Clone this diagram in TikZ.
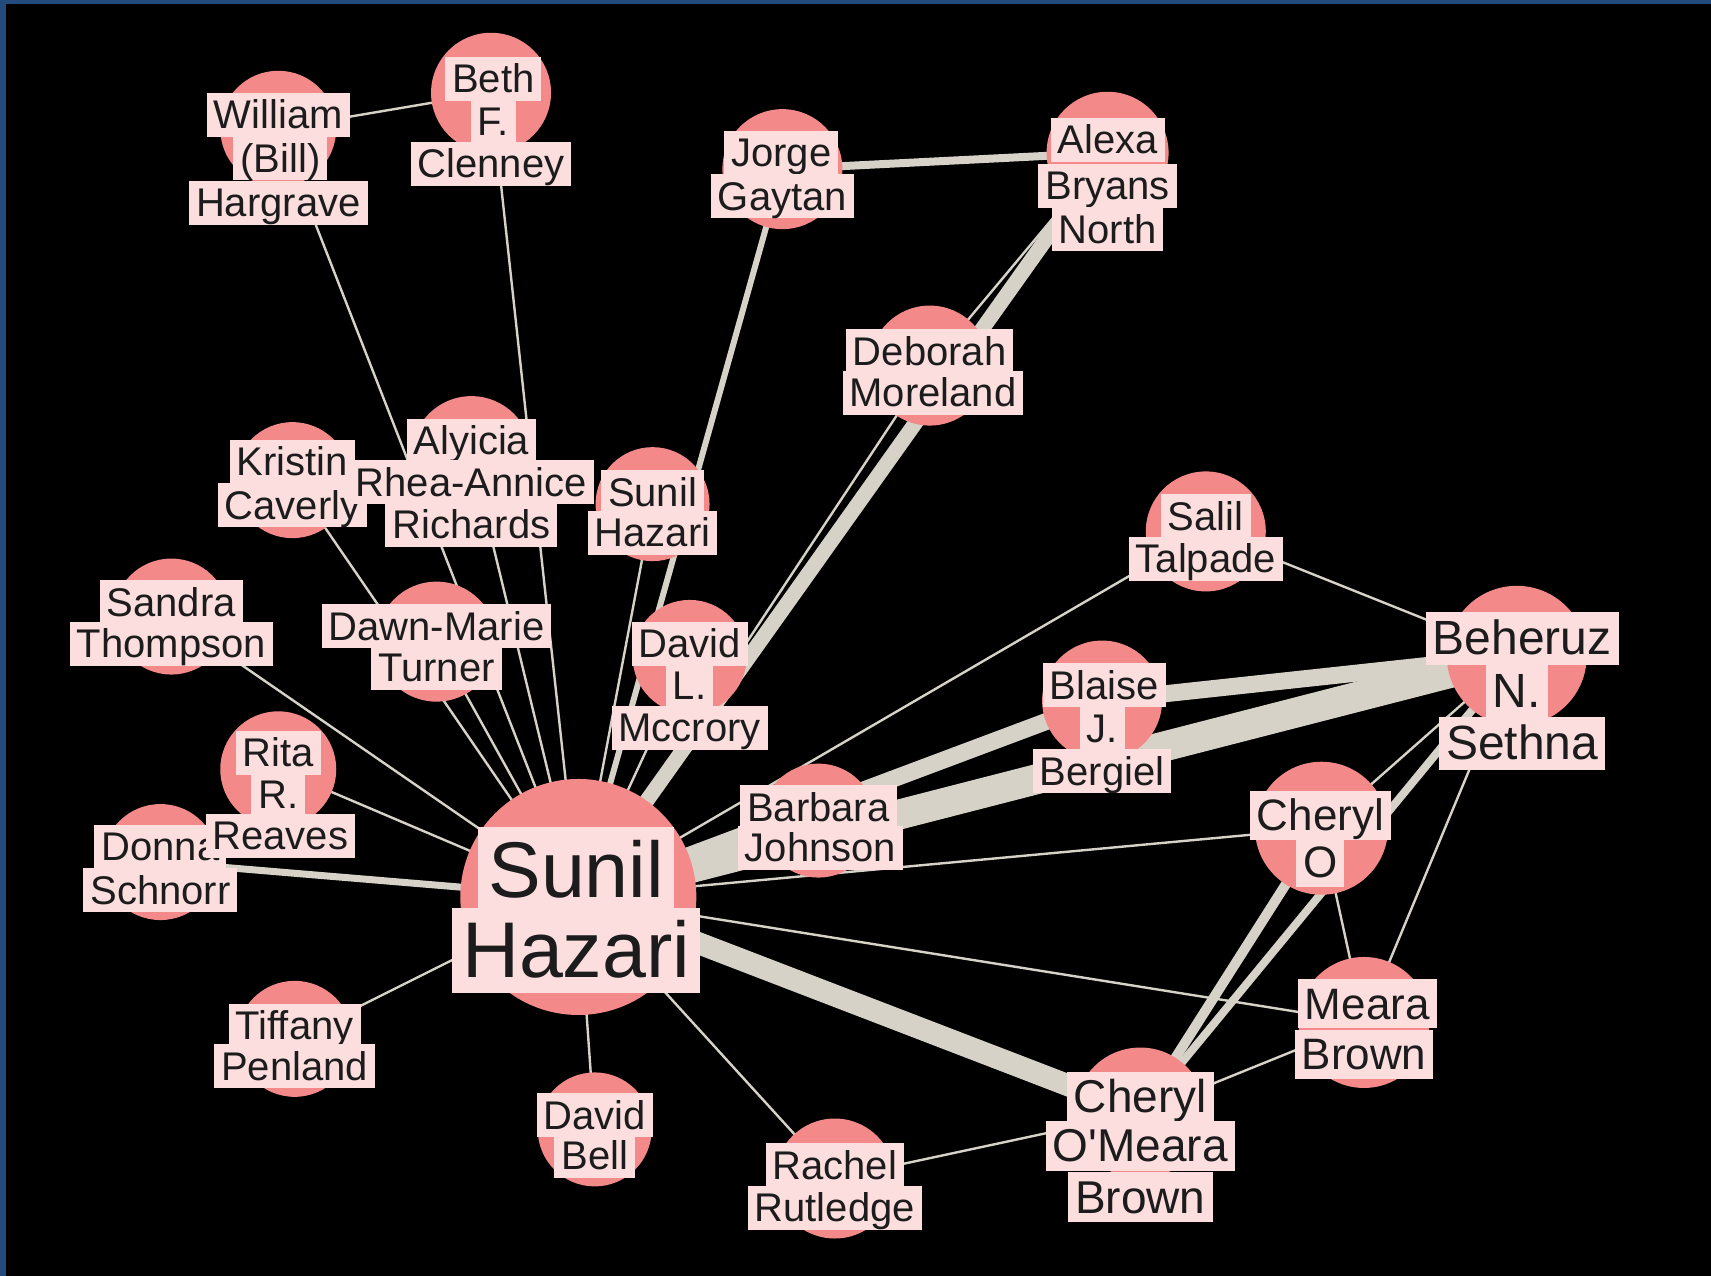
\documentclass[tikz,border=0pt]{standalone}
\usepackage{fontspec}
\setmainfont{Liberation Sans}
\definecolor{frameblue}{RGB}{35,74,124}
\definecolor{nodepink}{RGB}{243,137,137}
\definecolor{lblpink}{RGB}{252,222,222}
\definecolor{txtdark}{RGB}{28,28,28}
\definecolor{edgegray}{RGB}{214,210,199}
\pgfdeclarelayer{bg}
\pgfdeclarelayer{edges}
\pgfsetlayers{bg,edges,main}
\begin{document}
\begin{tikzpicture}[x=1.0912pt, y=-1.0912pt,
  circ/.style={circle, fill=nodepink, inner sep=0pt, minimum size=#1},
  lbl/.style={fill=lblpink, text=txtdark, inner xsep=7pt, inner ysep=0pt},
  l40/.style={lbl, font=\fontsize{40}{44}\selectfont, text height=36pt, text depth=8pt},
  l44/.style={lbl, font=\fontsize{44}{48}\selectfont, text height=40pt, text depth=9pt},
  l46/.style={lbl, font=\fontsize{46}{50}\selectfont, text height=41pt, text depth=9pt},
  l48/.style={lbl, font=\fontsize{48}{52}\selectfont, text height=43pt, text depth=10pt},
  l79/.style={lbl, inner xsep=10pt, font=\fontsize{79}{84}\selectfont, text height=70pt, text depth=15pt},
  edg/.style={draw=edgegray, line width=#1},
  edg/.default=2.4pt
]
\useasboundingbox (0,0) rectangle (1568,1169);
\begin{pgfonlayer}{bg}
\fill[frameblue] (0,0) rectangle (1568,1169);
\fill[black] (5.5,3.7) rectangle (1568,1169);
\end{pgfonlayer}

% William (Bill) Hargrave
\node[circ=116pt] (will) at (255,118) {};
\node[l40] (will1) at (255,105) {William};
\node[l40] (will2) at (257,145) {(Bill)};
\node[l40] (will3) at (255,186) {Hargrave};
% Beth F. Clenney
\node[circ=120pt] (beth) at (450,85) {};
\node[l40] (beth1) at (452,72) {Beth};
\node[l40] (beth2) at (452,111) {F.};
\node[l40] (beth3) at (450,150) {Clenney};
% Jorge Gaytan
\node[circ=120pt] (jorge) at (717,155) {};
\node[l40] (jorge1) at (716,140) {Jorge};
\node[l40] (jorge2) at (717,180) {Gaytan};
% Alexa Bryans North
\node[circ=122pt] (alexa) at (1015,140) {};
\node[l40] (alexa1) at (1015,128) {Alexa};
\node[l40] (alexa2) at (1015,170) {Bryans};
\node[l40] (alexa3) at (1015,210) {North};
% Deborah Moreland
\node[circ=120pt] (deb) at (852,335) {};
\node[l40] (deb1) at (852,322) {Deborah};
\node[l40] (deb2) at (855,360) {Moreland};
% Kristin Caverly
\node[circ=116pt] (kris) at (268,440) {};
\node[l40] (kris1) at (268,423) {Kristin};
\node[l40] (kris2) at (268,463) {Caverly};
% Alyicia Rhea-Annice Richards
\node[circ=120pt] (alyi) at (432,418) {};
\node[l40] (alyi1) at (432,404) {Alyicia};
\node[l40] (alyi2) at (432,442) {Rhea-Annice};
\node[l40] (alyi3) at (432,481) {Richards};
% Sunil Hazari (small)
\node[circ=114pt] (sunil) at (598,462) {};
\node[l40] (sunil1) at (598,451) {Sunil};
\node[l40] (sunil2) at (598,488) {Hazari};
% Salil Talpade
\node[circ=120pt] (salil) at (1105,487) {};
\node[l40] (salil1) at (1105,473) {Salil};
\node[l40] (salil2) at (1105,512) {Talpade};
% Sandra Thompson
\node[circ=116pt] (sandra) at (157,565) {};
\node[l40] (sandra1) at (157,552) {Sandra};
\node[l40] (sandra2) at (157,590) {Thompson};
% Dawn-Marie Turner
\node[circ=120pt] (dawn) at (400,588) {};
\node[l40] (dawn1) at (400,574) {Dawn-Marie};
\node[l40] (dawn2) at (400,612) {Turner};
% David L. Mccrory
\node[circ=114pt] (mcc) at (632,602) {};
\node[l40] (mcc1) at (632,590) {David};
\node[l40] (mcc2) at (632,628) {L.};
\node[l40] (mcc3) at (632,667) {Mccrory};
% Blaise J. Bergiel
\node[circ=120pt] (blaise) at (1010,642) {};
\node[l40] (blaise1) at (1012,628) {Blaise};
\node[l40] (blaise2) at (1010,668) {J.};
\node[l40] (blaise3) at (1010,707) {Bergiel};
% Beheruz N. Sethna
\node[circ=140pt] (beh) at (1390,601) {};
\node[l48] (beh1) at (1395,585) {Beheruz};
\node[l48] (beh2) at (1390,633) {N.};
\node[l48] (beh3) at (1395,681) {Sethna};
% Donna Schnorr
\node[circ=116pt] (donna) at (147,790) {};
\node[l40] (donna1) at (147,776) {Donna};
\node[l40] (donna2) at (147,816) {Schnorr};
% Rita R. Reaves
\node[circ=116pt] (rita) at (255,705) {};
\node[l40] (rita1) at (255,690) {Rita};
\node[l40] (rita2) at (255,728) {R.};
\node[l40] (rita3) at (257,766) {Reaves};
% Sunil Hazari (main)
\node[circ=236pt] (sh) at (530,822) {};
\node[l79] (sh1) at (528,797) {Sunil};
\node[l79] (sh2) at (528,871) {Hazari};
% Barbara Johnson
\node[circ=114pt] (barb) at (750,752) {};
\node[l40] (barb1) at (750,740) {Barbara};
\node[l40] (barb2) at (752,777) {Johnson};
% Cheryl O
\node[circ=133pt] (cherO) at (1211,759) {};
\node[l44] (cherO1) at (1210,747) {Cheryl};
\node[l44] (cherO2) at (1210,790) {O};
% Tiffany Penland
\node[circ=116pt] (tiff) at (270,952) {};
\node[l40] (tiff1) at (270,940) {Tiffany};
\node[l40] (tiff2) at (270,977) {Penland};
% Meara Brown
\node[circ=131pt] (meara) at (1250,937) {};
\node[l44] (meara1) at (1253,920) {Meara};
\node[l44] (meara2) at (1250,966) {Brown};
% David Bell
\node[circ=114pt] (bell) at (545,1035) {};
\node[l40] (bell1) at (545,1022) {David};
\node[l40] (bell2) at (545,1059) {Bell};
% Rachel Rutledge
\node[circ=120pt] (rachel) at (765,1080) {};
\node[l40] (rachel1) at (765,1068) {Rachel};
\node[l40] (rachel2) at (765,1107) {Rutledge};
% Cheryl O'Meara Brown
\node[circ=131pt] (cob) at (1045,1020) {};
\node[l46] (cob1) at (1045,1005) {Cheryl};
\node[l46] (cob2) at (1045,1050) {O\textquotesingle Meara};
\node[l46] (cob3) at (1045,1097) {Brown};

\begin{pgfonlayer}{edges}
\draw[edg] (will.center) -- (beth.center);
\draw[edg] (will.center) -- (sh.center);
\draw[edg] (beth.center) -- (sh.center);
\draw[edg=6pt] (jorge.center) -- (sh.center);
\draw[edg=8pt] (jorge.center) -- (alexa.center);
\draw[edg=15pt] (alexa.center) -- (sh.center);
\draw[edg] (deb.center) -- (alexa.center);
\draw[edg] (deb.center) -- (sh.center);
\draw[edg] (kris.center) -- (sh.center);
\draw[edg] (alyi.center) -- (sh.center);
\draw[edg] (sunil.center) -- (sh.center);
\draw[edg] (salil.center) -- (sh.center);
\draw[edg] (salil.center) -- (beh.center);
\draw[edg] (sandra.center) -- (sh.center);
\draw[edg] (dawn.center) -- (sh.center);
\draw[edg] (mcc.center) -- (sh.center);
\draw[edg=17pt] (blaise.center) -- (sh.center);
\draw[edg=17pt] (blaise.center) -- (beh.center);
\draw[edg=30pt] (beh.center) -- (sh.center);
\draw[edg] (rita.center) -- (sh.center);
\draw[edg=7pt] (donna.center) -- (sh.center);
\draw[edg] (barb.center) -- (sh.center);
\draw[edg] (cherO.center) -- (sh.center);
\draw[edg] (cherO.center) -- (beh.center);
\draw[edg] (tiff.center) -- (sh.center);
\draw[edg] (meara.center) -- (sh.center);
\draw[edg] (meara.center) -- (cherO.center);
\draw[edg] (meara.center) -- (beh.center);
\draw[edg] (meara.center) -- (cob.center);
\draw[edg] (bell.center) -- (sh.center);
\draw[edg] (rachel.center) -- (sh.center);
\draw[edg] (rachel.center) -- (cob.center);
\draw[edg=22pt] (cob.center) -- (sh.center);
\draw[edg=10pt] (cob.center) -- (cherO.center);
\draw[edg=8pt] (cob.center) -- (beh.center);
\end{pgfonlayer}
\end{tikzpicture}
\end{document}
